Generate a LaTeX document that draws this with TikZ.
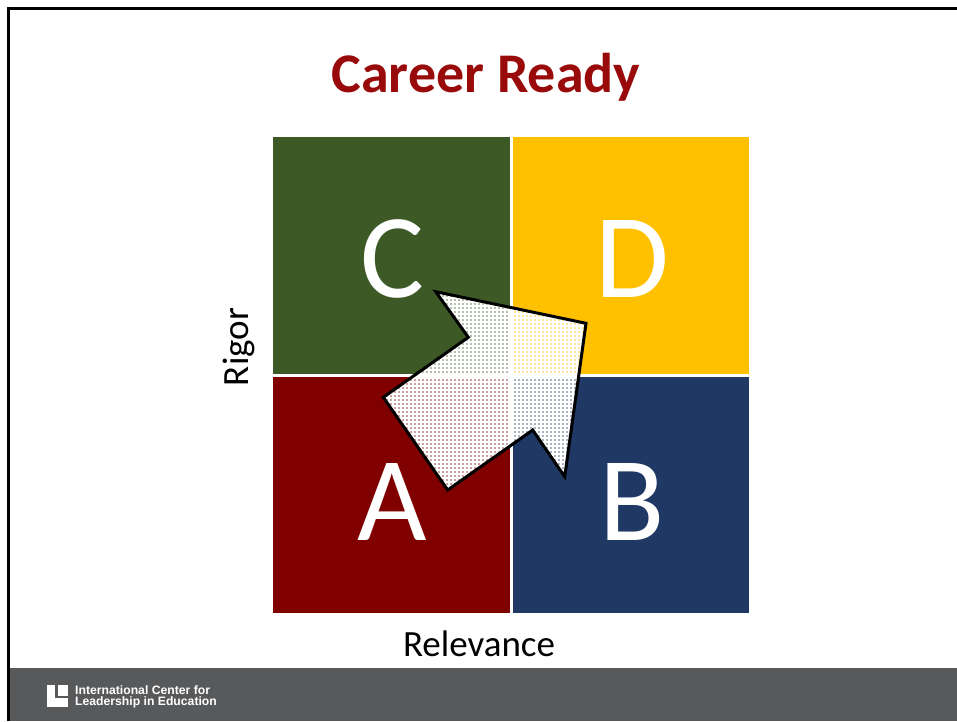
\documentclass[tikz,border=0pt]{standalone}
\usepackage{fontspec}
\setmainfont{Carlito}
\newfontfamily\footfont{Liberation Sans}
\definecolor{cgreen}{HTML}{3D5A26}
\definecolor{cyellow}{HTML}{FFC000}
\definecolor{cred}{HTML}{800000}
\definecolor{cblue}{HTML}{1F3864}
\definecolor{ctitle}{HTML}{990A0A}
\definecolor{cfoot}{HTML}{58595B}
\tikzset{
  quad/.style={minimum width=237pt,minimum height=237pt,inner sep=0pt,anchor=north west},
  letter/.style={inner sep=0pt,text=white,font=\fontsize{120}{120}\selectfont},
  axis/.style={inner sep=0pt,font=\fontsize{37}{37}\selectfont,text=black},
}
\def\arrowpath{(435.7,291.7) -- (586,323.3) -- (564.7,476.7) -- (532.7,430) -- (447.7,490) -- (383.3,397.3) -- (468.3,337.3) -- cycle}
\begin{document}
\begin{tikzpicture}[x=1pt,y=-1pt]
\useasboundingbox (0,0) rectangle (957,721);
\fill[white] (0,0) rectangle (957,721);
\fill[black] (7,7) rectangle (957,9.5);
\fill[black] (7,7) rectangle (9.5,721);
\node[inner sep=0pt,font=\bfseries\fontsize{56}{56}\selectfont,text=ctitle] (title) at (486,77) {Career Ready};
\node[quad,fill=cgreen] (c) at (273,137) {};
\node[quad,fill=cyellow,minimum width=236pt] (d) at (513,137) {};
\node[quad,fill=cred,minimum height=236pt] (a) at (273,377) {};
\node[quad,fill=cblue,minimum width=236pt,minimum height=236pt] (b) at (513,377) {};
\node[letter] (lc) at (392,259) {C};
\node[letter] (ld) at (632,259) {D};
\node[letter] (la) at (392,502) {A};
\node[letter] (lb) at (632,502) {B};
\node[axis,rotate=90] (rigor) at (238.5,347) {Rigor};
\node[axis] (rel) at (479,644) {Relevance};
\fill[white,fill opacity=.62] \arrowpath;
\begin{scope}
\clip \arrowpath;
\foreach \k in {0,...,54} {
  \fill[white] (380+\k*4,285) rectangle ++(1.7,210);
  \fill[white] (380,285+\k*4) rectangle ++(210,1.7);
}
\end{scope}
\draw[black,line width=3pt,miter limit=6] \arrowpath;
\fill[cfoot] (9.5,668) rectangle (957,721);
\fill[white] (46.5,685) rectangle (67.8,707);
\fill[cfoot] (55,685) rectangle (57.6,698);
\fill[cfoot] (55,696) rectangle (67.8,698);
\node[inner sep=0pt,align=left,anchor=west,text=white,font=\footfont\bfseries\fontsize{12.2}{10.8}\selectfont] (foot) at (75,696.5) {International Center for\\Leadership in Education};
\end{tikzpicture}
\end{document}
